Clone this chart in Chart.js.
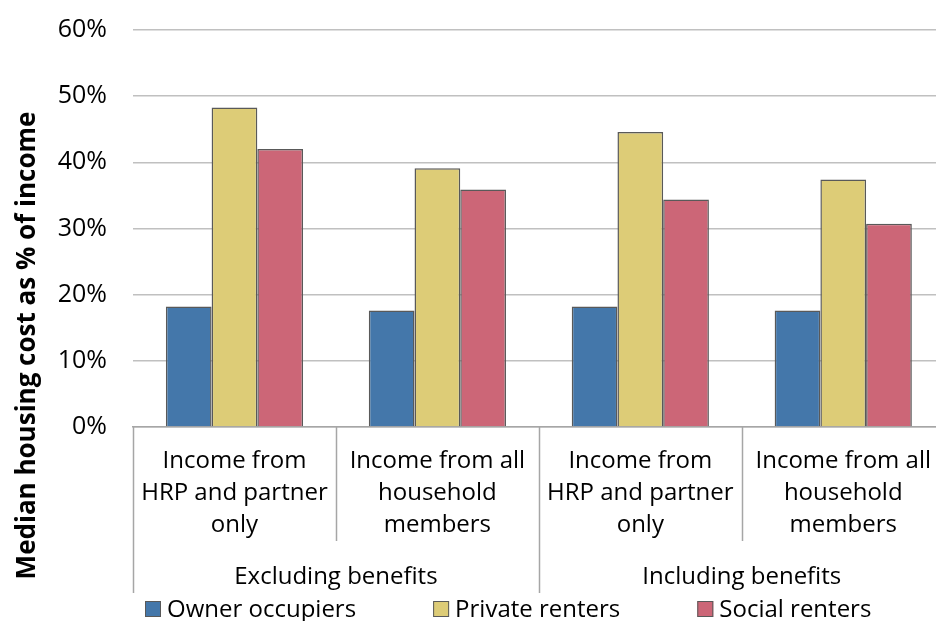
<!DOCTYPE html>
<html>
<head>
<meta charset="utf-8">
<script src="https://cdn.jsdelivr.net/npm/chart.js@4"></script>
<style>
  html, body { margin: 0; padding: 0; overflow: hidden; background: #fff; }
  #wrap { position: relative; width: 949px; height: 621px; }
</style>
</head>
<body>
<div id="wrap"><canvas id="grafica"></canvas></div>
<script>
const categorias = [
    ['Income from', 'HRP and partner', 'only'],
    ['Income from all', 'household', 'members'],
    ['Income from', 'HRP and partner', 'only'],
    ['Income from all', 'household', 'members']
];
const grupos = ['Excluding benefits', 'Including benefits'];
const series = ['Owner occupiers', 'Private renters', 'Social renters'];
const ownerOccupiers = [18.2, 17.6, 18.2, 17.6];
const privateRenters = [48.3, 39.1, 44.6, 37.4];
const socialRenters = [42.0, 35.9, 34.4, 30.7];
const colores = ['#4477AA', '#DDCC77', '#CC6677'];
const tituloY = 'Median housing cost as % of income';
const yMin = 0, yMax = 60, yStep = 10;

const FONT = "'Open Sans', sans-serif";
Chart.defaults.font.family = FONT;
Chart.defaults.color = '#000';

// vertical separators between categories and groups
const separadores = {
    id: 'separadores',
    afterDraw(chart) {
        const x = chart.scales.x, x2 = chart.scales.x2;
        const ctx = chart.ctx;
        const n = categorias.length;
        const porGrupo = n / grupos.length;
        const paso = (x.right - x.left) / n;
        ctx.save();
        ctx.strokeStyle = '#a6a6a6';
        ctx.lineWidth = 1.5;
        for (let i = 0; i <= n; i++) {
            const px = Math.round(x.left + i * paso) + 0.5;
            const fin = (i % porGrupo === 0) ? x2.bottom : x.bottom;
            ctx.beginPath();
            ctx.moveTo(px, x.top);
            ctx.lineTo(px, fin);
            ctx.stroke();
        }
        ctx.restore();
    }
};

// rotated y title, centred on plot + category labels like the original
const tituloEje = {
    id: 'tituloEje',
    afterDraw(chart) {
        const ctx = chart.ctx;
        const cy = (chart.chartArea.top + chart.scales.x2.bottom) / 2 + 34;
        ctx.save();
        ctx.translate(35, cy);
        ctx.rotate(-Math.PI / 2);
        ctx.font = `bold 26px ${FONT}`;
        ctx.textAlign = 'center';
        ctx.textBaseline = 'alphabetic';
        ctx.fillStyle = '#000';
        ctx.fillText(tituloY, 0, 0);
        ctx.restore();
    }
};

// legend row under the group labels
const leyenda = {
    id: 'leyenda',
    afterDraw(chart) {
        const ctx = chart.ctx;
        const y = (chart.scales.x2.bottom + chart.height) / 2 + 2;
        let cx = chart.chartArea.left + 12;
        ctx.save();
        ctx.font = `24px ${FONT}`;
        ctx.textBaseline = 'middle';
        ctx.textAlign = 'left';
        chart.data.datasets.forEach(ds => {
            ctx.fillStyle = ds.backgroundColor;
            ctx.fillRect(cx, y - 8, 16, 16);
            ctx.strokeStyle = '#595959';
            ctx.lineWidth = 1;
            ctx.strokeRect(cx + 0.5, y - 7.5, 15, 15);
            ctx.fillStyle = '#000';
            ctx.fillText(ds.label, cx + 22, y + 1);
            cx += 22 + ctx.measureText(ds.label).width + 77;
        });
        ctx.restore();
    }
};

new Chart(document.getElementById('grafica'), {
    type: 'bar',
    data: {
        labels: categorias,
        datasets: [ownerOccupiers, privateRenters, socialRenters].map((vals, i) => ({
            label: series[i],
            data: vals,
            backgroundColor: colores[i],
            borderColor: '#595959',
            borderWidth: 1.5,
            categoryPercentage: 0.676,
            barPercentage: 1.0,
            xAxisID: 'x'
        }))
    },
    options: {
        responsive: true,
        maintainAspectRatio: false,
        animation: false,
        layout: { padding: { top: 30, right: 0, bottom: 28, left: 0 } },
        plugins: {
            legend: { display: false },
            tooltip: { enabled: false }
        },
        scales: {
            y: {
                min: yMin,
                max: yMax,
                ticks: {
                    stepSize: yStep,
                    padding: 26,
                    font: { size: 25 },
                    callback: v => v + '%'
                },
                grid: { color: '#c0c0c0', lineWidth: 1.5, drawTicks: false },
                border: { display: false },
                afterFit(scale) {
                    scale.width = 133;
                    scale.paddingTop = 0;
                    scale.paddingBottom = 0;
                }
            },
            x: {
                position: 'bottom',
                grid: { display: false, drawTicks: false },
                border: { display: true, color: '#a6a6a6', width: 1.5 },
                ticks: {
                    padding: 18,
                    maxRotation: 0,
                    autoSkip: false,
                    font: { size: 24, lineHeight: 32 / 24 }
                },
                afterFit(scale) { scale.height = 114; }
            },
            x2: {
                type: 'category',
                position: 'bottom',
                labels: grupos,
                offset: true,
                grid: { display: false, drawTicks: false },
                border: { display: false },
                ticks: {
                    padding: 20,
                    maxRotation: 0,
                    autoSkip: false,
                    font: { size: 24, lineHeight: 32 / 24 }
                },
                afterFit(scale) { scale.height = 52; }
            }
        }
    },
    plugins: [separadores, tituloEje, leyenda]
});
</script>
</body>
</html>
